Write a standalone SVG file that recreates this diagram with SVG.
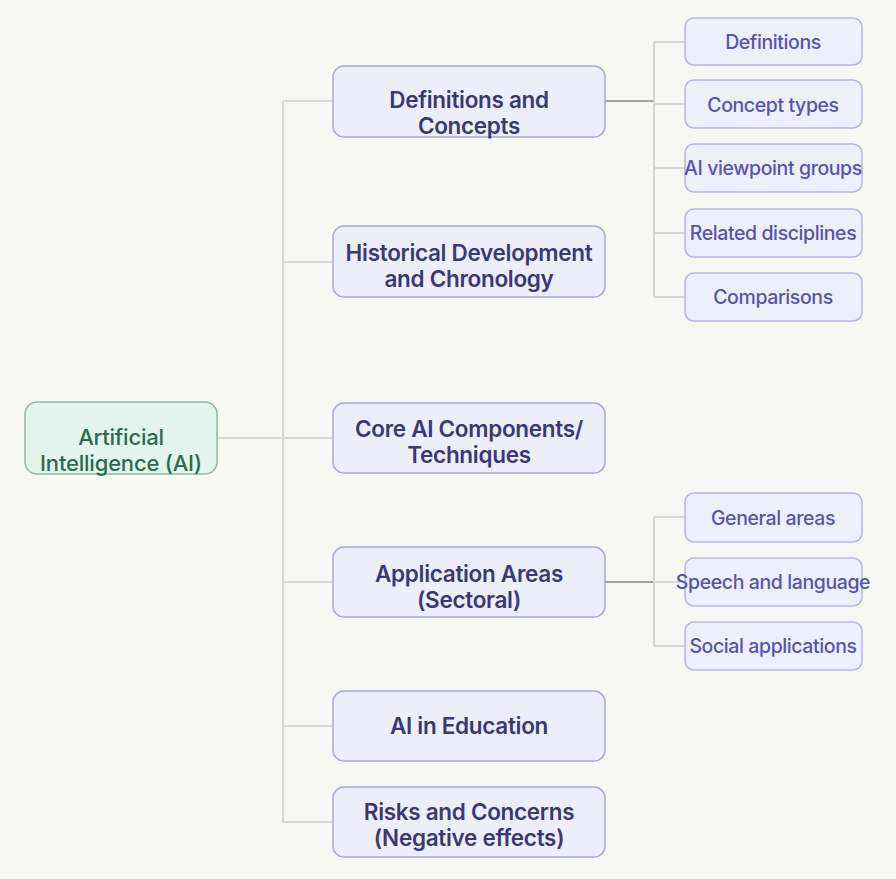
<svg xmlns="http://www.w3.org/2000/svg" width="896" height="879" viewBox="0 0 896 879">
<style>
.bg{fill:#f7f7f3}
.ln{stroke:#d8d8d2;stroke-width:2;fill:none}
.lnd{stroke:#a3a39c;stroke-width:2;fill:none}
.root rect{fill:#e1f4ee;stroke:#93b8a8;stroke-width:1.5}
.root text{fill:#2d6a4f;font-family:Inter,"Liberation Sans",sans-serif;font-size:22px;font-weight:500;text-anchor:middle;letter-spacing:-0.2px}
.l1 rect{fill:#eeeefb;stroke:#aaa8d2;stroke-width:1.5}
.l1 text{fill:#3b3872;font-family:Inter,"Liberation Sans",sans-serif;font-size:22.5px;font-weight:600;text-anchor:middle;letter-spacing:-0.3px}
.l2 rect{fill:#efeffc;stroke:#b7b5e0;stroke-width:1.5}
.l2 text{fill:#5853ad;font-family:Inter,"Liberation Sans",sans-serif;font-size:19.5px;font-weight:500;text-anchor:middle;letter-spacing:-0.4px}
</style>
<rect class="bg" x="0" y="0" width="896" height="879"/>
<g id="connectors">
<path class="ln" d="M217 438H333"/>
<path class="ln" d="M283 101V822"/>
<path class="ln" d="M283 101H333M283 262H333M283 582H333M283 726H333M283 822H333"/>
<path class="lnd" d="M605 101H654"/>
<path class="ln" d="M654 42V297"/>
<path class="ln" d="M654 42H685M654 104H685M654 168H685M654 233H685M654 297H685"/>
<path class="lnd" d="M605 582H654"/>
<path class="ln" d="M654 517V646"/>
<path class="ln" d="M654 517H685M654 582H685M654 646H685"/>
</g>
<g id="root" class="root">
<rect x="25" y="402" width="192" height="72" rx="12"/>
<text x="121" y="445">Artificial</text>
<text x="121" y="471">Intelligence (AI)</text>
</g>
<g id="definitions-concepts" class="l1">
<rect x="333" y="66" width="272" height="71" rx="11"/>
<text x="469" y="108">Definitions and</text>
<text x="469" y="134">Concepts</text>
</g>
<g id="historical" class="l1">
<rect x="333" y="226" width="272" height="71" rx="11"/>
<text x="469" y="261">Historical Development</text>
<text x="469" y="287">and Chronology</text>
</g>
<g id="core" class="l1">
<rect x="333" y="403" width="272" height="70" rx="11"/>
<text x="469" y="437">Core AI Components/</text>
<text x="469" y="463">Techniques</text>
</g>
<g id="application" class="l1">
<rect x="333" y="547" width="272" height="70" rx="11"/>
<text x="469" y="582">Application Areas</text>
<text x="469" y="608">(Sectoral)</text>
</g>
<g id="education" class="l1">
<rect x="333" y="691" width="272" height="70" rx="11"/>
<text x="469" y="734">AI in Education</text>
</g>
<g id="risks" class="l1">
<rect x="333" y="787" width="272" height="70" rx="11"/>
<text x="469" y="820">Risks and Concerns</text>
<text x="469" y="846">(Negative effects)</text>
</g>
<g id="c-definitions" class="l2">
<rect x="685" y="18" width="177" height="47" rx="9"/>
<text x="773" y="49">Definitions</text>
</g>
<g id="c-concept-types" class="l2">
<rect x="685" y="80" width="177" height="48" rx="9"/>
<text x="773" y="112">Concept types</text>
</g>
<g id="c-viewpoint" class="l2">
<rect x="685" y="144" width="177" height="48" rx="9"/>
<text x="773" y="175">AI viewpoint groups</text>
</g>
<g id="c-related" class="l2">
<rect x="685" y="209" width="177" height="48" rx="9"/>
<text x="773" y="240">Related disciplines</text>
</g>
<g id="c-comparisons" class="l2">
<rect x="685" y="273" width="177" height="48" rx="9"/>
<text x="773" y="304">Comparisons</text>
</g>
<g id="c-general" class="l2">
<rect x="685" y="493" width="177" height="49" rx="9"/>
<text x="773" y="525">General areas</text>
</g>
<g id="c-speech" class="l2">
<rect x="685" y="558" width="177" height="48" rx="9"/>
<text x="773" y="589">Speech and language</text>
</g>
<g id="c-social" class="l2">
<rect x="685" y="622" width="177" height="48" rx="9"/>
<text x="773" y="653">Social applications</text>
</g>
</svg>
